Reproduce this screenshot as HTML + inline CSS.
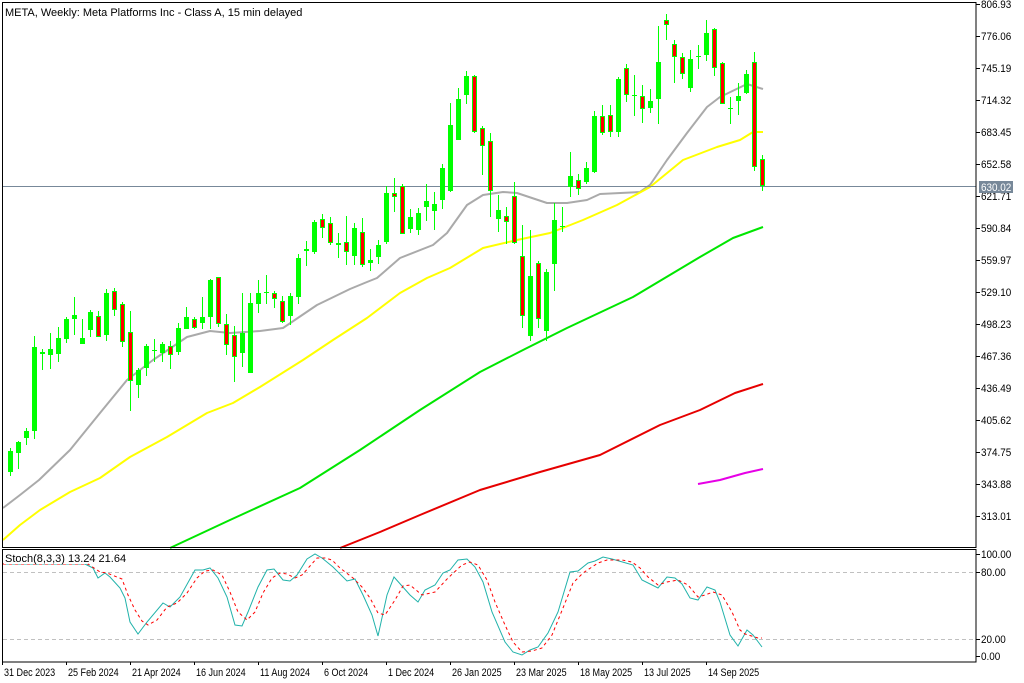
<!DOCTYPE html>
<html><head><meta charset="utf-8"><style>
html,body{margin:0;padding:0;background:#fff;}
svg{display:block;font-family:"Liberation Sans",sans-serif;font-size:11px;}
</style></head><body>
<svg id="s" width="1024" height="683" viewBox="0 0 1024 683" xmlns="http://www.w3.org/2000/svg">
<rect width="1024" height="683" fill="#fff"/>
<g id="ma" fill="none" stroke-width="2" stroke-linejoin="round">
<polyline stroke="#aaaaaa" points="3,508 20,495 39,480 70,450 100,413 127,380 153,360 187,337 210,331 230,333 260,331 283,328 317,305 350,289 367,282 377,278 400,258 433,245 447,233 467,205 483,195 503,192 517,193 547,203 567,203 587,200 600,194 640,192 650,185 667,160 687,133 707,107 720,97 747,84 763,89"/>
<polyline stroke="#ffff00" points="3,540 20,525 40,510 70,492 100,478 130,457 167,437 207,413 233,403 260,387 303,360 333,340 367,318 400,293 427,278 450,268 483,248 517,240 550,233 583,220 617,205 650,187 683,160 717,147 740,140 753,132 763,132"/>
<polyline stroke="#00e600" points="170,548 230,520 300,488 360,450 420,410 480,372 525,349 567,328 633,297 700,257 733,238 763,227"/>
<polyline stroke="#e60000" points="340,548 380,532 420,515 480,490 540,472 600,455 660,425 700,410 735,393 763,384"/>
<polyline stroke="#e600e6" points="698,484 720,480 745,473 763,469"/>
</g>
<line x1="2" y1="186.5" x2="976" y2="186.5" stroke="#778899" stroke-width="1"/>
<g id="c"></g>
<rect x="2.5" y="2.5" width="973.5" height="545" fill="none" stroke="#000"/>
<rect x="2.5" y="549.5" width="973.5" height="112.5" fill="none" stroke="#000"/>
<line x1="3" y1="572.5" x2="975" y2="572.5" stroke="#c0c0c0" stroke-dasharray="4,3"/>
<line x1="3" y1="639.5" x2="975" y2="639.5" stroke="#c0c0c0" stroke-dasharray="4,3"/>
<g fill="none" stroke-width="1">
<polyline stroke="#20b2aa" points="3,564 85,564 93,568 98,578 105,573 110,577 120,588 125,598 130,622 138,634 147,622 163,603 170,607 180,597 195,570 203,570 210,568 218,578 227,597 235,625 242,626 248,612 258,587 267,570 274,569 283,580 290,581 297,575 307,559 315,554 322,558 333,567 347,581 355,579 363,595 372,615 378,636 387,595 394,577 410,595 418,602 425,590 435,585 443,573 450,570 458,560 467,559 475,567 483,582 492,612 505,642 513,652 522,655 530,650 538,647 548,633 558,612 570,572 578,571 588,563 595,561 603,557 612,559 633,565 642,580 658,588 667,577 675,578 682,584 690,598 698,600 707,587 715,590 720,602 730,635 738,646 747,630 753,635 762,647"/>
<polyline stroke="#ff0000" stroke-dasharray="3,3" points="3,564 88,564 100,572 107,573 122,579 128,595 135,610 142,621 148,625 157,620 167,607 177,603 187,593 197,578 205,571 213,570 222,575 230,592 238,612 247,620 255,612 263,593 272,578 280,573 287,574 295,578 302,575 310,566 317,558 325,558 332,560 340,568 353,578 362,587 370,598 378,613 385,615 395,600 403,586 410,585 422,595 435,592 448,578 462,565 470,562 478,565 487,580 495,602 505,625 513,642 522,652 532,651 542,648 552,635 563,608 573,583 583,573 598,563 607,560 622,560 632,562 640,568 648,577 658,585 667,582 678,580 688,585 698,597 705,595 713,592 722,595 732,612 740,630 745,634 758,638 762,638"/>
</g>
<rect x="4" y="551" width="84" height="13" fill="#fff"/>
<text x="5" y="562" fill="#000">Stoch(8,3,3) 13.24 21.64</text>
<text x="5" y="16" fill="#000">META, Weekly:  Meta Platforms Inc - Class A, 15 min delayed</text>
<g id="ax" fill="#000"></g>
</svg>
<script>
var D=[[450.7,471.7,448,476,0],[441.7,452.7,441,469,0],[430.7,437.7,427.7,445,0],[346.7,430.7,335.7,439,0],[352,354,349,370,1],[349,355,333,369,0],[338,353.7,327,362,0],[318.7,339,316.7,343,0],[315,319,297,335,0],[338,343.7,318.7,343.7,0],[312,330,309.7,337,0],[316,336.7,311,337,1],[293,335,289,340.7,0],[291,309.7,288,315.7,1],[304,341.7,301.7,346.7,1],[332,380.7,311,410.7,1],[370,384.7,368,397.7,0],[345.7,367.7,343.7,375.7,0],[349.5,350.5,339,361.7,0],[343.7,352.7,342,362,0],[345.7,355,340.7,369,1],[327.7,351.7,322.7,355,0],[317,329,307,329,0],[319,327.7,317,328.7,1],[317,322.7,297,328.7,0],[279.7,317,279,328.7,0],[277.3,323.7,277.3,327,1],[323.7,345.3,314,355.3,1],[335,357,325.7,381.7,1],[333.3,352.7,293,367,0],[303,372.7,293,372.7,0],[293.3,304.3,280,312.7,0],[292.2,293.2,275,304.3,0],[293.3,299.3,291.3,308.3,1],[301.3,321.7,296,323.3,1],[296,315.7,293.3,325,0],[258,297,254,303.7,0],[249.3,251,241,265.7,0],[221.7,252,219.7,254.3,0],[219.3,228,214,237.7,1],[223.3,242.7,216.7,245,1],[243,245.3,233,257.7,1],[242.3,251.7,215.7,265,1],[227.7,255.7,223,265,0],[232.3,265.3,217.7,267.3,1],[259.7,262.7,249,270.7,0],[245,256.7,240.3,263.7,0],[193,242,186.3,244,0],[193.3,197.3,177.7,211.7,1],[186,233.7,184.3,234,1],[216.7,229,209,233.3,0],[213.3,230,208.3,235,0],[201,206.7,184,221,0],[203.7,211,192,230,0],[168,199.7,164.3,209,0],[125,191,103,192.3,0],[99.3,139.7,87.7,139.7,0],[75.7,94.7,71,103.7,0],[75.7,131.7,74.7,132.7,1],[128,146.3,125.7,174.7,1],[141,191,133,217.3,1],[210,218.7,194.7,232,0],[216,221.7,206.7,244.3,1],[196,243.3,181.7,244.3,1],[256,316.3,225,327.7,1],[276,336,230,340.7,0],[263.3,319.3,261,327.7,1],[272,331,269.3,340.7,0],[220,263.7,203.3,291,0],[225.5,226.5,206.7,231.7,0],[176,187.3,152,196.7,0],[180.3,189.3,173.7,195,1],[167.7,182,162.3,184.3,0],[116,172,111,173.3,0],[116,133,105.3,135,1],[115.3,132.3,105.3,136.7,1],[78.7,131.7,77.3,136.7,0],[68.3,94.7,63.7,101.7,1],[95.2,96.2,75,116,0],[96.3,109.3,85.3,122.7,1],[101,107.7,89,112.7,0],[61.7,98.7,26,123.7,0],[20,25.3,14,39.7,1],[43.7,57.3,40.3,82.7,1],[57,74.3,52.7,78.7,1],[59,88,50.3,92,0],[55.5,56.5,45,69.3,0],[32.7,54.7,20,61.3,0],[29,68.3,28,76,1],[63,103.7,61.7,103.7,1],[108.2,109.2,96.7,123.7,0],[96,101,82.7,115.3,0],[74,93,70,93.7,0],[62,167.3,52,170.7,1],[159.3,186,155.3,191,1]];
var h='';
D.forEach(function(d,i){var cx=10+8*i;var t=Math.round(d[0]),b=Math.max(Math.round(d[1]),t+1);
h+='<rect x="'+cx+'" y="'+Math.round(d[2])+'" width="1" height="'+(Math.round(d[3])-Math.round(d[2]))+'" fill="#00ff00"/>';
h+='<rect x="'+(cx-2)+'" y="'+t+'" width="5" height="'+(b-t)+'" fill="#00ff00"/>';
if(d[4]&&b-t>2)h+='<rect x="'+(cx-1)+'" y="'+(t+1)+'" width="3" height="'+(b-t-2)+'" fill="#ff0000"/>';});
document.getElementById('c').innerHTML=h;
var a='';
var P=['806.93','776.06','745.19','714.32','683.45','652.58','621.71','590.84','559.97','529.10','498.23','467.36','436.49','405.62','374.75','343.88','313.01'];
P.forEach(function(p,i){var y=Math.round(4+i*31.99);a+='<rect x="976" y="'+y+'" width="4" height="1"/><text x="981" y="'+(y+4)+'">'+p+'</text>';});
a+='<rect x="979" y="181" width="34" height="12" fill="#778899"/><text x="981" y="191" fill="#fff">630.02</text>';
[['100.00',554],['80.00',572],['20.00',639],['0.00',656]].forEach(function(s){a+='<rect x="976" y="'+s[1]+'" width="4" height="1"/><text x="981" y="'+(s[1]+4)+'">'+s[0]+'</text>';});
var L=['31 Dec 2023','25 Feb 2024','21 Apr 2024','16 Jun 2024','11 Aug 2024','6 Oct 2024','1 Dec 2024','26 Jan 2025','23 Mar 2025','18 May 2025','13 Jul 2025','14 Sep 2025'];
L.forEach(function(s,i){var x=2+64*i;a+='<rect x="'+x+'" y="662" width="1" height="3"/><text class="d" x="'+(x+2)+'" y="676">'+s+'</text>';});
document.getElementById('ax').innerHTML=a;
var ds=document.querySelectorAll('text.d');
for(var k=0;k<ds.length;k++){var w=ds[k].getComputedTextLength();ds[k].setAttribute('textLength',(w*0.82).toFixed(1));ds[k].setAttribute('lengthAdjust','spacingAndGlyphs');}
var ps=document.querySelectorAll('#ax text:not(.d)');
for(var k=0;k<ps.length;k++){var w=ps[k].getComputedTextLength();ps[k].setAttribute('textLength',(w*0.9).toFixed(1));ps[k].setAttribute('lengthAdjust','spacingAndGlyphs');}
</script>
</body></html>
